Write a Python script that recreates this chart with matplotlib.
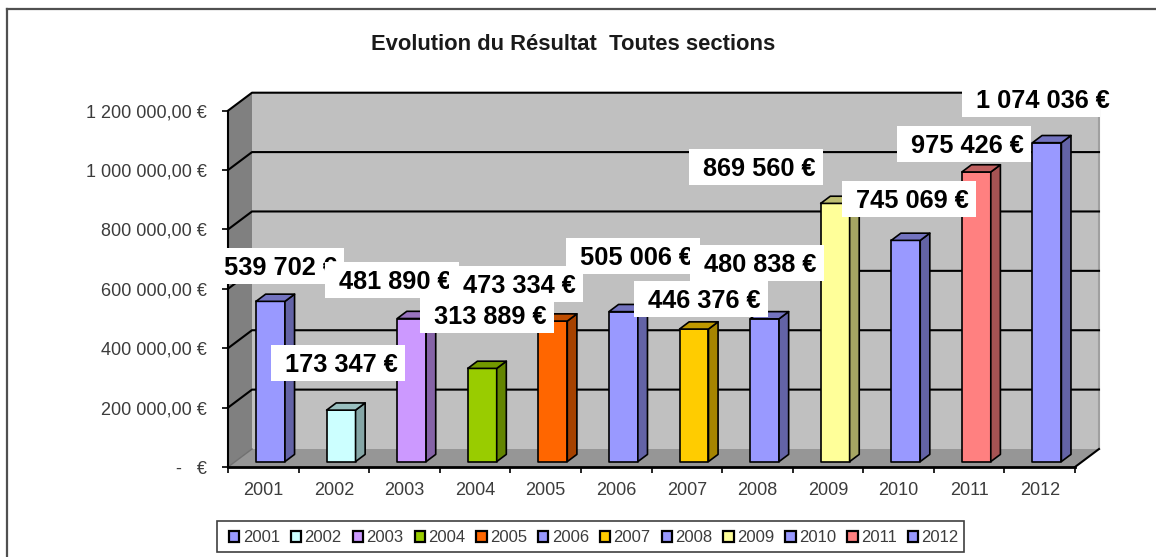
import matplotlib
matplotlib.use("Agg")
import matplotlib.pyplot as plt
from matplotlib.patches import Polygon, Rectangle, Patch
from matplotlib.lines import Line2D
from matplotlib.transforms import Affine2D
from matplotlib.colors import to_rgb

plt.rcParams['font.family'] = ['Liberation Sans', 'DejaVu Sans']

years = ["2001", "2002", "2003", "2004", "2005", "2006", "2007", "2008", "2009", "2010", "2011", "2012"]
values = [539702, 173347, 481890, 313889, 473334, 505006, 446376, 480838, 869560, 745069, 975426, 1074036]
labels = ["539 702 €", "173 347 €", "481 890 €", "313 889 €", "473 334 €", "505 006 €",
          "446 376 €", "480 838 €", "869 560 €", "745 069 €", "975 426 €", "1 074 036 €"]
colors = ["#9999FF", "#CCFFFF", "#CC99FF", "#99CC00", "#FF6600", "#9999FF",
          "#FFCC00", "#9999FF", "#FFFF99", "#9999FF", "#FF8080", "#9999FF"]
y_ticks = [0, 200000, 400000, 600000, 800000, 1000000, 1200000]
y_labels = ["-   €", "200 000,00 €", "400 000,00 €", "600 000,00 €", "800 000,00 €",
            "1 000 000,00 €", "1 200 000,00 €"]

# label box corners in pixels, the labels were moved by hand in the original
box_left = [210, 271, 325, 420, 449, 566, 634, 690, 689, 842, 897, 962]
box_top = [248, 345, 262, 297, 266, 238, 281, 245, 149, 181, 126, 81]

W, H = 1156, 557
fig = plt.figure(figsize=(W / 100, H / 100), dpi=100)
px = Affine2D().scale(1, -1).translate(0, H)

# axes = front plane of the 3d box
x0, x1, y0, y1 = 228, 1075, 467, 110.7
ax = fig.add_axes([x0 / W, 1 - y0 / H, (x1 - x0) / W, (y0 - y1) / H])
ax.set_xlim(0, 12)
ax.set_ylim(0, 1200000)
ax.patch.set_visible(False)

depth_x = 24 / ((x1 - x0) / 12)
depth_y = 18 / ((y0 - y1) / 1200000)


def proj(x, v, d=1.0):
    return (x + d * depth_x, v + d * depth_y)


def poly(pts, color, z, ec="none", lw=0):
    ax.add_patch(Polygon(pts, closed=True, fc=color, ec=ec, lw=lw, zorder=z, clip_on=False, joinstyle="round"))


def shade(c, f):
    return tuple(v * f for v in to_rgb(c))


# walls and floor
poly([(0, 0), proj(0, 0), proj(0, 1200000), (0, 1200000)], "#808080", 1)
poly([proj(0, 0), proj(12, 0), proj(12, 1200000), proj(0, 1200000)], "#C0C0C0", 1)
poly([(0, 0), (12, 0), proj(12, 0), proj(0, 0)], "#969696", 1.1)
ax.plot([proj(12, 0)[0], proj(12, 1200000)[0]], [proj(12, 0)[1], proj(12, 1200000)[1]],
        color="#A0A0A0", lw=1.5, zorder=1.2, clip_on=False)

for t in y_ticks[1:]:
    ax.plot([0, proj(0, t)[0], proj(12, t)[0]], [t, proj(0, t)[1], proj(12, t)[1]],
            color="black", lw=1.5, zorder=1.5, clip_on=False)
ax.plot([12, proj(12, 0)[0]], [0, proj(12, 0)[1]], color="black", lw=1.5, zorder=2, clip_on=False)
ax.plot([0, proj(0, 0)[0]], [0, proj(0, 0)[1]], color="#707070", lw=1, zorder=2, clip_on=False)

# bars
bar_w = 0.41
for i, (v, c) in enumerate(zip(values, colors)):
    l = i + 0.5 - bar_w / 2
    r = i + 0.5 + bar_w / 2
    poly([proj(l, 0, .3), proj(r, 0, .3), proj(r, v, .3), proj(l, v, .3)], c, 3, ec="black", lw=1.2)
    poly([proj(r, 0, .3), proj(r, 0, .7), proj(r, v, .7), proj(r, v, .3)], shade(c, .65), 3, ec="black", lw=1.2)
    poly([proj(l, v, .3), proj(r, v, .3), proj(r, v, .7), proj(l, v, .7)], shade(c, .75), 3, ec="black", lw=1.2)

# data labels, later ones sit on top of earlier ones
for i, lab in enumerate(labels):
    z = 10 + i
    w = 138 if i == 11 else 134
    h = 36
    ax.add_patch(Rectangle((box_left[i], box_top[i]), w, h, transform=px, fc="white", ec="none",
                           zorder=z, clip_on=False))
    ax.text(box_left[i] + 14, box_top[i] + h / 2 + 2, lab, transform=px, fontsize=18.3, fontweight="bold",
            ha="left", va="center", color="black", zorder=z + 0.5, clip_on=False)

# axes furniture
ax.spines["top"].set_visible(False)
ax.spines["right"].set_visible(False)
ax.spines["left"].set_linewidth(1.5)
ax.spines["bottom"].set_linewidth(2)
ax.set_yticks(y_ticks)
ax.set_yticklabels(y_labels)
ax.set_xticks(range(13))
ax.set_xticklabels([])
ax.set_xticks([i + 0.5 for i in range(12)], minor=True)
ax.set_xticklabels(years, minor=True)
ax.tick_params(axis="y", length=4, width=1.2, pad=11, labelsize=13, labelcolor="#3c3c3c")
ax.tick_params(axis="x", which="major", length=4, width=1.2)
ax.tick_params(axis="x", which="minor", length=0, pad=10.5, labelsize=13, labelcolor="#3c3c3c")

# title
fig.text(573 / W, 1 - 44 / H, "Evolution du Résultat  Toutes sections", ha="center", va="center",
         fontsize=15.8, fontweight="bold", color="#1a1a1a")

# chart frame, only top and left show in the crop
fig.add_artist(Line2D([6.5 / W, 6.5 / W], [0, 1 - 9 / H], color="#505050", lw=1.6))
fig.add_artist(Line2D([6.5 / W, 1], [1 - 9 / H, 1 - 9 / H], color="#505050", lw=1.6))

# legend, own frame because borderpad would make it too tall
fig.add_artist(Rectangle((217, 521), 747, 31, transform=px, fc="white", ec="#404040", lw=1.2))
handles = [Patch(fc=c, ec="black", lw=1.6) for c in colors]
leg = fig.legend(handles, years, ncol=12, loc="center left", bbox_to_anchor=(229 / W, 1 - 538 / H),
                 fontsize=12, handlelength=0.62, handleheight=0.62, handletextpad=0.2,
                 columnspacing=0.66, borderaxespad=0, borderpad=0, labelspacing=0,
                 frameon=False, labelcolor="#3c3c3c")
leg.set_zorder(5)

fig.savefig("out.png", dpi=100)
